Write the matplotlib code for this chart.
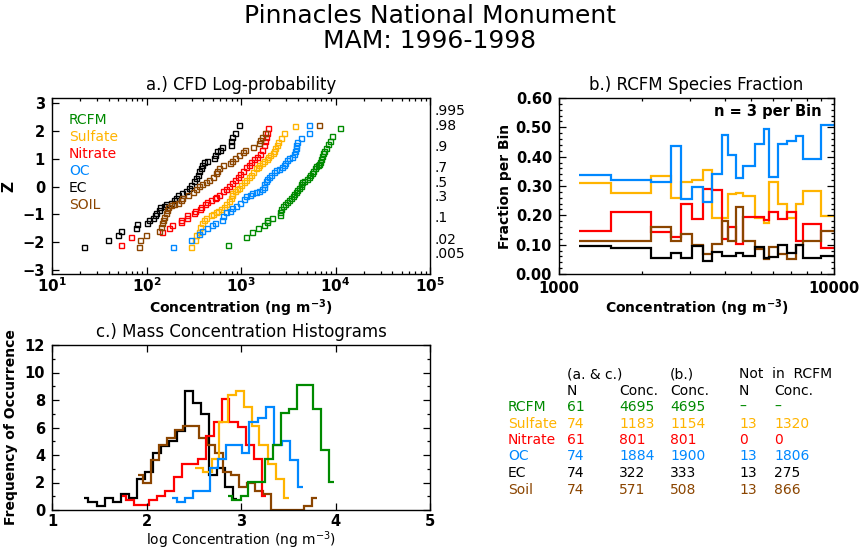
import matplotlib
matplotlib.use('Agg')
import matplotlib.pyplot as plt
import numpy as np
from matplotlib.ticker import LogLocator, NullFormatter, MultipleLocator, FixedLocator

# ---------------- colours ----------------
C_RCFM = '#008a00'
C_SULF = '#ffb400'
C_NITR = '#ff0000'
C_OC = '#0088ff'
C_EC = '#000000'
C_SOIL = '#8b4500'

# ---------------- panel a: CFD log-probability (log10 conc, Z) ----------------
rcfm_logc = [4.05, 3.96, 3.94, 3.92, 3.90, 3.88, 3.87, 3.86, 3.85, 3.84, 3.83, 3.81, 3.79, 3.78, 3.76,
             3.75, 3.73, 3.72, 3.70, 3.67, 3.65, 3.64, 3.63, 3.61, 3.59, 3.58, 3.56, 3.55, 3.53, 3.51,
             3.49, 3.47, 3.44, 3.42, 3.41, 3.41, 3.33, 3.28, 3.27, 3.24, 3.18, 3.12, 3.05, 2.86]
rcfm_z = [2.12, 1.83, 1.65, 1.52, 1.40, 1.28, 1.20, 1.12, 1.00, 0.90, 0.83, 0.78, 0.73, 0.66, 0.56,
          0.48, 0.41, 0.34, 0.28, 0.22, 0.16, 0.08, 0.01, -0.06, -0.13, -0.20, -0.26, -0.34, -0.41, -0.48,
          -0.55, -0.61, -0.70, -0.80, -0.90, -1.02, -1.12, -1.20, -1.28, -1.37, -1.47, -1.62, -1.81, -2.09]

sulf_logc = [3.57, 3.46, 3.42, 3.39, 3.38, 3.36, 3.35, 3.34, 3.31, 3.29, 3.27, 3.24, 3.22, 3.19, 3.18,
             3.16, 3.13, 3.11, 3.08, 3.05, 3.03, 3.00, 2.98, 2.96, 2.94, 2.91, 2.90, 2.89, 2.87, 2.84,
             2.82, 2.79, 2.76, 2.74, 2.70, 2.68, 2.63, 2.61, 2.59, 2.57, 2.56, 2.52, 2.51, 2.47]
sulf_z = [2.19, 1.94, 1.76, 1.62, 1.50, 1.40, 1.29, 1.20, 1.14, 1.07, 1.00, 0.92, 0.84, 0.78, 0.72,
          0.66, 0.54, 0.42, 0.34, 0.25, 0.16, 0.06, -0.04, -0.08, -0.16, -0.22, -0.30, -0.42, -0.52, -0.61,
          -0.72, -0.80, -0.88, -0.92, -0.97, -1.02, -1.12, -1.20, -1.32, -1.44, -1.62, -1.74, -1.92, -2.18]

nitr_logc = [3.29, 3.27, 3.26, 3.25, 3.24, 3.22, 3.20, 3.17, 3.14, 3.11, 3.08, 3.05, 3.02, 2.99, 2.97,
             2.94, 2.90, 2.87, 2.84, 2.81, 2.77, 2.74, 2.72, 2.68, 2.64, 2.62, 2.58, 2.57, 2.51, 2.50,
             2.43, 2.43, 2.37, 2.36, 2.27, 2.24, 2.16, 1.84, 1.73]
nitr_z = [2.11, 1.92, 1.80, 1.66, 1.49, 1.33, 1.18, 1.06, 0.98, 0.90, 0.79, 0.70, 0.58, 0.46, 0.34,
          0.24, 0.13, 0.03, -0.07, -0.17, -0.29, -0.36, -0.42, -0.48, -0.56, -0.62, -0.72, -0.79, -0.86, -0.96,
          -1.02, -1.12, -1.19, -1.26, -1.38, -1.47, -1.62, -1.81, -2.10]

oc_logc = [3.72, 3.72, 3.64, 3.59, 3.58, 3.58, 3.57, 3.56, 3.54, 3.51, 3.49, 3.47, 3.45, 3.43, 3.40,
           3.37, 3.35, 3.32, 3.30, 3.28, 3.26, 3.24, 3.24, 3.22, 3.19, 3.16, 3.12, 3.09, 3.05, 3.03,
           2.99, 2.95, 2.91, 2.88, 2.84, 2.81, 2.80, 2.73, 2.69, 2.64, 2.59, 2.56, 2.47, 2.28]
oc_z = [2.22, 1.94, 1.76, 1.62, 1.50, 1.40, 1.28, 1.16, 1.07, 1.02, 0.95, 0.85, 0.77, 0.71, 0.65,
        0.59, 0.52, 0.42, 0.35, 0.28, 0.20, 0.11, -0.01, -0.10, -0.16, -0.19, -0.24, -0.29, -0.35, -0.44,
        -0.60, -0.71, -0.78, -0.86, -0.92, -1.04, -1.20, -1.31, -1.38, -1.47, -1.59, -1.71, -1.92, -2.18]

ec_logc = [2.98, 2.94, 2.90, 2.89, 2.89, 2.80, 2.78, 2.75, 2.73, 2.71, 2.64, 2.61, 2.59, 2.58, 2.56,
           2.54, 2.52, 2.50, 2.47, 2.45, 2.42, 2.38, 2.33, 2.31, 2.29, 2.26, 2.21, 2.19, 2.14, 2.13,
           2.10, 2.09, 2.07, 2.03, 2.00, 1.90, 1.89, 1.73, 1.70, 1.59, 1.34]
ec_z = [2.21, 1.93, 1.78, 1.66, 1.51, 1.42, 1.33, 1.27, 1.15, 1.03, 0.91, 0.89, 0.79, 0.67, 0.55,
        0.43, 0.31, 0.19, 0.07, -0.05, -0.14, -0.23, -0.31, -0.40, -0.48, -0.58, -0.62, -0.69, -0.74, -0.84,
        -0.96, -1.02, -1.14, -1.20, -1.29, -1.35, -1.47, -1.58, -1.74, -1.92, -2.18]

soil_logc = [3.83, 3.25, 3.22, 3.20, 3.19, 3.13, 3.04, 3.02, 2.98, 2.94, 2.90, 2.88, 2.81, 2.77, 2.75,
             2.74, 2.70, 2.66, 2.63, 2.59, 2.56, 2.52, 2.49, 2.44, 2.38, 2.37, 2.33, 2.29, 2.26, 2.23,
             2.22, 2.21, 2.19, 2.17, 2.16, 2.15, 2.13, 1.99, 1.93, 1.92]
soil_z = [2.22, 1.93, 1.78, 1.69, 1.57, 1.41, 1.33, 1.25, 1.13, 1.03, 0.94, 0.85, 0.77, 0.67, 0.55,
          0.49, 0.34, 0.25, 0.17, 0.10, 0.01, -0.07, -0.19, -0.31, -0.41, -0.48, -0.58, -0.62, -0.66, -0.72,
          -0.84, -0.96, -1.08, -1.20, -1.32, -1.44, -1.58, -1.74, -1.92, -2.18]

legend_names_a = ['RCFM', 'Sulfate', 'Nitrate', 'OC', 'EC', 'SOIL']
prob_labels = ['.995', '.98', '.9', '.7', '.5', '.3', '.1', '.02', '.005']
prob_z = [2.576, 2.054, 1.282, 0.524, 0.0, -0.524, -1.282, -2.054, -2.576]

# ---------------- panel b: RCFM species fraction (n = 3 per bin) ----------------
b_edges = [1182, 1541, 2160, 2547, 2777, 3037, 3330, 3590, 3904, 4128, 4401,
           4681, 5160, 5580, 5802, 6240, 6767, 7255, 7737, 8967, 10000]
b_sulf = [0.310, 0.276, 0.335, 0.259, 0.314, 0.322, 0.356, 0.190, 0.190, 0.272,
          0.275, 0.266, 0.190, 0.175, 0.315, 0.240, 0.190, 0.238, 0.283, 0.199]
b_nitr = [0.148, 0.210, 0.143, 0.127, 0.240, 0.189, 0.290, 0.287, 0.121, 0.159,
          0.102, 0.196, 0.194, 0.183, 0.213, 0.189, 0.210, 0.114, 0.169, 0.087]
b_oc = [0.337, 0.320, 0.315, 0.437, 0.256, 0.296, 0.247, 0.342, 0.475, 0.405,
        0.328, 0.369, 0.444, 0.493, 0.330, 0.444, 0.454, 0.471, 0.391, 0.508]
b_ec = [0.094, 0.087, 0.055, 0.070, 0.055, 0.094, 0.045, 0.075, 0.061, 0.061,
        0.070, 0.063, 0.092, 0.055, 0.059, 0.100, 0.070, 0.100, 0.053, 0.063]
b_soil = [0.114, 0.111, 0.161, 0.111, 0.138, 0.100, 0.067, 0.103, 0.182, 0.111,
          0.230, 0.114, 0.086, 0.052, 0.093, 0.067, 0.052, 0.100, 0.111, 0.147]

# ---------------- panel c: mass concentration histograms (log conc edges, frequency) ----------------
c_ec_edges = [1.339, 1.382, 1.471, 1.559, 1.647, 1.725, 1.817, 1.901, 1.983, 2.068, 2.153,
              2.238, 2.319, 2.407, 2.489, 2.577, 2.662, 2.750, 2.831, 2.916, 2.959]
c_ec = [0.86, 0.57, 0.29, 0.86, 0.57, 1.15, 0.86, 2.28, 2.77, 4.18, 4.67,
        5.03, 5.76, 8.62, 7.77, 6.98, 2.52, 3.08, 1.67, 0.80]
c_soil_edges = [1.912, 1.959, 2.047, 2.131, 2.216, 2.301, 2.389, 2.473, 2.556, 2.641, 2.725, 2.807,
                2.892, 2.980, 3.068, 3.150, 3.238, 3.319, 3.404, 3.489, 3.574, 3.662, 3.751, 3.804]
c_soil = [2.55, 1.94, 3.64, 4.74, 5.23, 5.84, 6.13, 6.13, 5.23, 4.74, 4.18, 2.80,
          2.52, 1.67, 1.94, 1.38, 1.13, 0.0, 0.0, 0.0, 0.0, 0.28, 0.89]
c_nitr_edges = [1.736, 1.778, 1.863, 1.946, 2.025, 2.110, 2.195, 2.291, 2.372, 2.457,
                2.542, 2.627, 2.712, 2.796, 2.877, 2.964, 3.051, 3.139, 3.221, 3.266]
c_nitr = [1.01, 0.72, 0.33, 0.33, 0.72, 1.01, 1.38, 2.40, 3.38, 3.38,
          3.69, 5.35, 6.42, 8.08, 6.42, 6.06, 4.75, 3.69, 1.01]
c_sulf_edges = [2.513, 2.601, 2.690, 2.771, 2.860, 2.945, 3.033, 3.115, 3.195, 3.284, 3.369, 3.457, 3.503]
c_sulf = [3.09, 2.80, 3.69, 6.38, 8.38, 8.62, 7.52, 6.13, 4.74, 3.33, 2.28, 0.84]
c_oc_edges = [2.273, 2.319, 2.407, 2.495, 2.584, 2.672, 2.754, 2.839, 2.924, 3.008,
              3.089, 3.178, 3.263, 3.351, 3.433, 3.521, 3.602, 3.651]
c_oc = [0.89, 0.57, 0.89, 1.38, 1.38, 3.09, 3.69, 4.74, 4.74, 4.18,
        6.38, 6.67, 7.52, 4.74, 5.03, 3.64, 1.67]
c_rcfm_edges = [2.866, 2.909, 2.998, 3.078, 3.168, 3.256, 3.337, 3.425, 3.510,
                3.592, 3.677, 3.761, 3.849, 3.934, 3.980]
c_rcfm = [1.01, 0.72, 1.01, 2.04, 2.04, 3.69, 4.74, 7.06, 7.35, 9.06, 9.06, 7.35, 4.37, 2.04]

# ---------------- table ----------------
t_names = ['RCFM', 'Sulfate', 'Nitrate', 'OC', 'EC', 'Soil']
t_n_ac = ['61', '74', '61', '74', '74', '74']
t_conc_ac = ['4695', '1183', '801', '1884', '322', '571']
t_conc_b = ['4695', '1154', '801', '1900', '333', '508']
t_n_not = ['–', '13', '0', '13', '13', '13']
t_conc_not = ['–', '1320', '0', '1806', '275', '866']
t_colors = [C_RCFM, C_SULF, C_NITR, C_OC, C_EC, C_SOIL]

# =====================================================================
W, H = 860, 550
fig = plt.figure(figsize=(8.6, 5.5), dpi=100)


def px_axes(l, t, r, b):
    return fig.add_axes([l / W, 1 - b / H, (r - l) / W, (b - t) / H])


def style(ax):
    for s in ax.spines.values():
        s.set_linewidth(1.0)
    ax.tick_params(which='both', direction='in', top=True, right=True, width=0.9)
    ax.tick_params(which='major', length=5, pad=5)
    ax.tick_params(which='minor', length=2.5)


axA = px_axes(52, 98, 430, 274)
axB = px_axes(559, 98, 834, 274)
axC = px_axes(52, 345, 430, 510)

# ---- panel a ----
series_a = [(rcfm_logc, rcfm_z, C_RCFM), (sulf_logc, sulf_z, C_SULF), (nitr_logc, nitr_z, C_NITR),
            (oc_logc, oc_z, C_OC), (ec_logc, ec_z, C_EC), (soil_logc, soil_z, C_SOIL)]
for lc, z, col in series_a:
    axA.plot(10 ** np.array(lc), z, ls='none', marker='s', ms=3.6, mfc='none', mec=col, mew=1.0)
axA.set_xscale('log')
axA.set_xlim(10, 1e5)
axA.set_ylim(-3.14, 3.19)
style(axA)
axA.xaxis.set_major_locator(FixedLocator([1e1, 1e2, 1e3, 1e4, 1e5]))
axA.xaxis.set_minor_locator(LogLocator(base=10, subs=np.arange(2, 10)))
axA.xaxis.set_minor_formatter(NullFormatter())
axA.set_xticklabels([r'$\mathbf{10^{1}}$', r'$\mathbf{10^{2}}$', r'$\mathbf{10^{3}}$',
                     r'$\mathbf{10^{4}}$', r'$\mathbf{10^{5}}$'], fontsize=11)
axA.tick_params(axis='x', which='major', pad=2)
axA.set_yticks([-3, -2, -1, 0, 1, 2, 3])
axA.set_yticklabels(['−3', '−2', '−1', '0', '1', '2', '3'], fontweight='bold', fontsize=10.5)
axA.tick_params(axis='y', which='both', right=False)
for p, zq in zip(prob_labels, prob_z):
    axA.text(1.012, zq, p, transform=axA.get_yaxis_transform(), va='baseline', ha='left', fontsize=10)
for i, (nm, (_, _, col)) in enumerate(zip(legend_names_a, series_a)):
    axA.text(0.045, 0.875 - i * 0.0965, nm, color=col, transform=axA.transAxes,
             va='center', ha='left', fontsize=10)
axA.set_title('a.) CFD Log-probability', fontsize=12, pad=6)
axA.set_xlabel(r'Concentration (ng m$^{\mathbf{-3}}$)', fontweight='bold', fontsize=10)
axA.xaxis.set_label_coords(0.5, -0.135)
axA.set_ylabel('Z', fontweight='bold', fontsize=11)
axA.yaxis.set_label_coords(-0.095, 0.5)

# ---- panel b ----
for vals, col in [(b_sulf, C_SULF), (b_nitr, C_NITR), (b_oc, C_OC), (b_soil, C_SOIL), (b_ec, C_EC)]:
    axB.stairs(vals, b_edges, baseline=None, color=col, lw=1.6)
axB.set_xscale('log')
axB.set_xlim(1000, 10000)
axB.set_ylim(0, 0.6)
style(axB)
axB.xaxis.set_major_locator(FixedLocator([1000, 10000]))
axB.xaxis.set_minor_locator(LogLocator(base=10, subs=np.arange(2, 10)))
axB.xaxis.set_minor_formatter(NullFormatter())
axB.set_xticklabels(['1000', '10000'], fontweight='bold', fontsize=10.5)
yt = [0.0, 0.1, 0.2, 0.3, 0.4, 0.5, 0.6]
axB.set_yticks(yt)
axB.set_yticklabels(['%.2f' % v for v in yt], fontweight='bold', fontsize=10.5)
axB.yaxis.set_minor_locator(MultipleLocator(0.02))
axB.text(0.955, 0.925, 'n = 3 per Bin', transform=axB.transAxes, ha='right', va='center',
         fontweight='bold', fontsize=10.5)
axB.set_title('b.) RCFM Species Fraction', fontsize=12, pad=6)
axB.set_xlabel(r'Concentration (ng m$^{\mathbf{-3}}$)', fontweight='bold', fontsize=10)
axB.xaxis.set_label_coords(0.5, -0.135)
axB.set_ylabel('Fraction per Bin', fontweight='bold', fontsize=10)
axB.yaxis.set_label_coords(-0.17, 0.5)

# ---- panel c ----
for edges, vals, col in [(c_ec_edges, c_ec, C_EC), (c_soil_edges, c_soil, C_SOIL),
                         (c_nitr_edges, c_nitr, C_NITR), (c_sulf_edges, c_sulf, C_SULF),
                         (c_oc_edges, c_oc, C_OC), (c_rcfm_edges, c_rcfm, C_RCFM)]:
    axC.stairs(vals, edges, baseline=None, color=col, lw=1.6)
axC.set_xlim(1, 5)
axC.set_ylim(0, 12)
style(axC)
axC.set_xticks([1, 2, 3, 4, 5])
axC.set_xticklabels(['1', '2', '3', '4', '5'], fontweight='bold', fontsize=10.5)
axC.tick_params(axis='x', which='major', pad=3)
axC.set_yticks([0, 2, 4, 6, 8, 10, 12])
axC.set_yticklabels(['0', '2', '4', '6', '8', '10', '12'], fontweight='bold', fontsize=10.5)
axC.yaxis.set_minor_locator(MultipleLocator(1))
axC.set_title('c.) Mass Concentration Histograms', fontsize=12, pad=6)
axC.set_xlabel(r'log Concentration (ng m$^{-3}$)', fontsize=10)
axC.xaxis.set_label_coords(0.5, -0.115)
axC.set_ylabel('Frequency of Occurrence', fontweight='bold', fontsize=10)
axC.yaxis.set_label_coords(-0.09, 0.5)

# ---- main title ----
fig.text(0.5, 1 - 16 / H, 'Pinnacles National Monument', ha='center', va='center', fontsize=18)
fig.text(0.5, 1 - 41 / H, 'MAM: 1996-1998', ha='center', va='center', fontsize=18)

# ---- table ----
fs_t = 10
col_x = [508, 567, 619, 670, 739, 774]


def ftext(xp, yp, s, col='black'):
    fig.text(xp / W, 1 - yp / H, s, ha='left', va='center', fontsize=fs_t, color=col)


ftext(567, 374, '(a. & c.)')
ftext(670, 374, '(b.)')
ftext(739, 374, 'Not  in  RCFM')
ftext(567, 391, 'N')
ftext(619, 391, 'Conc.')
ftext(670, 391, 'Conc.')
ftext(739, 391, 'N')
ftext(774, 391, 'Conc.')
row_y = [407, 423.5, 440, 456.5, 473, 489.5]
for i in range(len(t_names)):
    cells = [t_names[i], t_n_ac[i], t_conc_ac[i], t_conc_b[i], t_n_not[i], t_conc_not[i]]
    for xp, s in zip(col_x, cells):
        ftext(xp, row_y[i], s, t_colors[i])

fig.savefig('out.png', dpi=100)
